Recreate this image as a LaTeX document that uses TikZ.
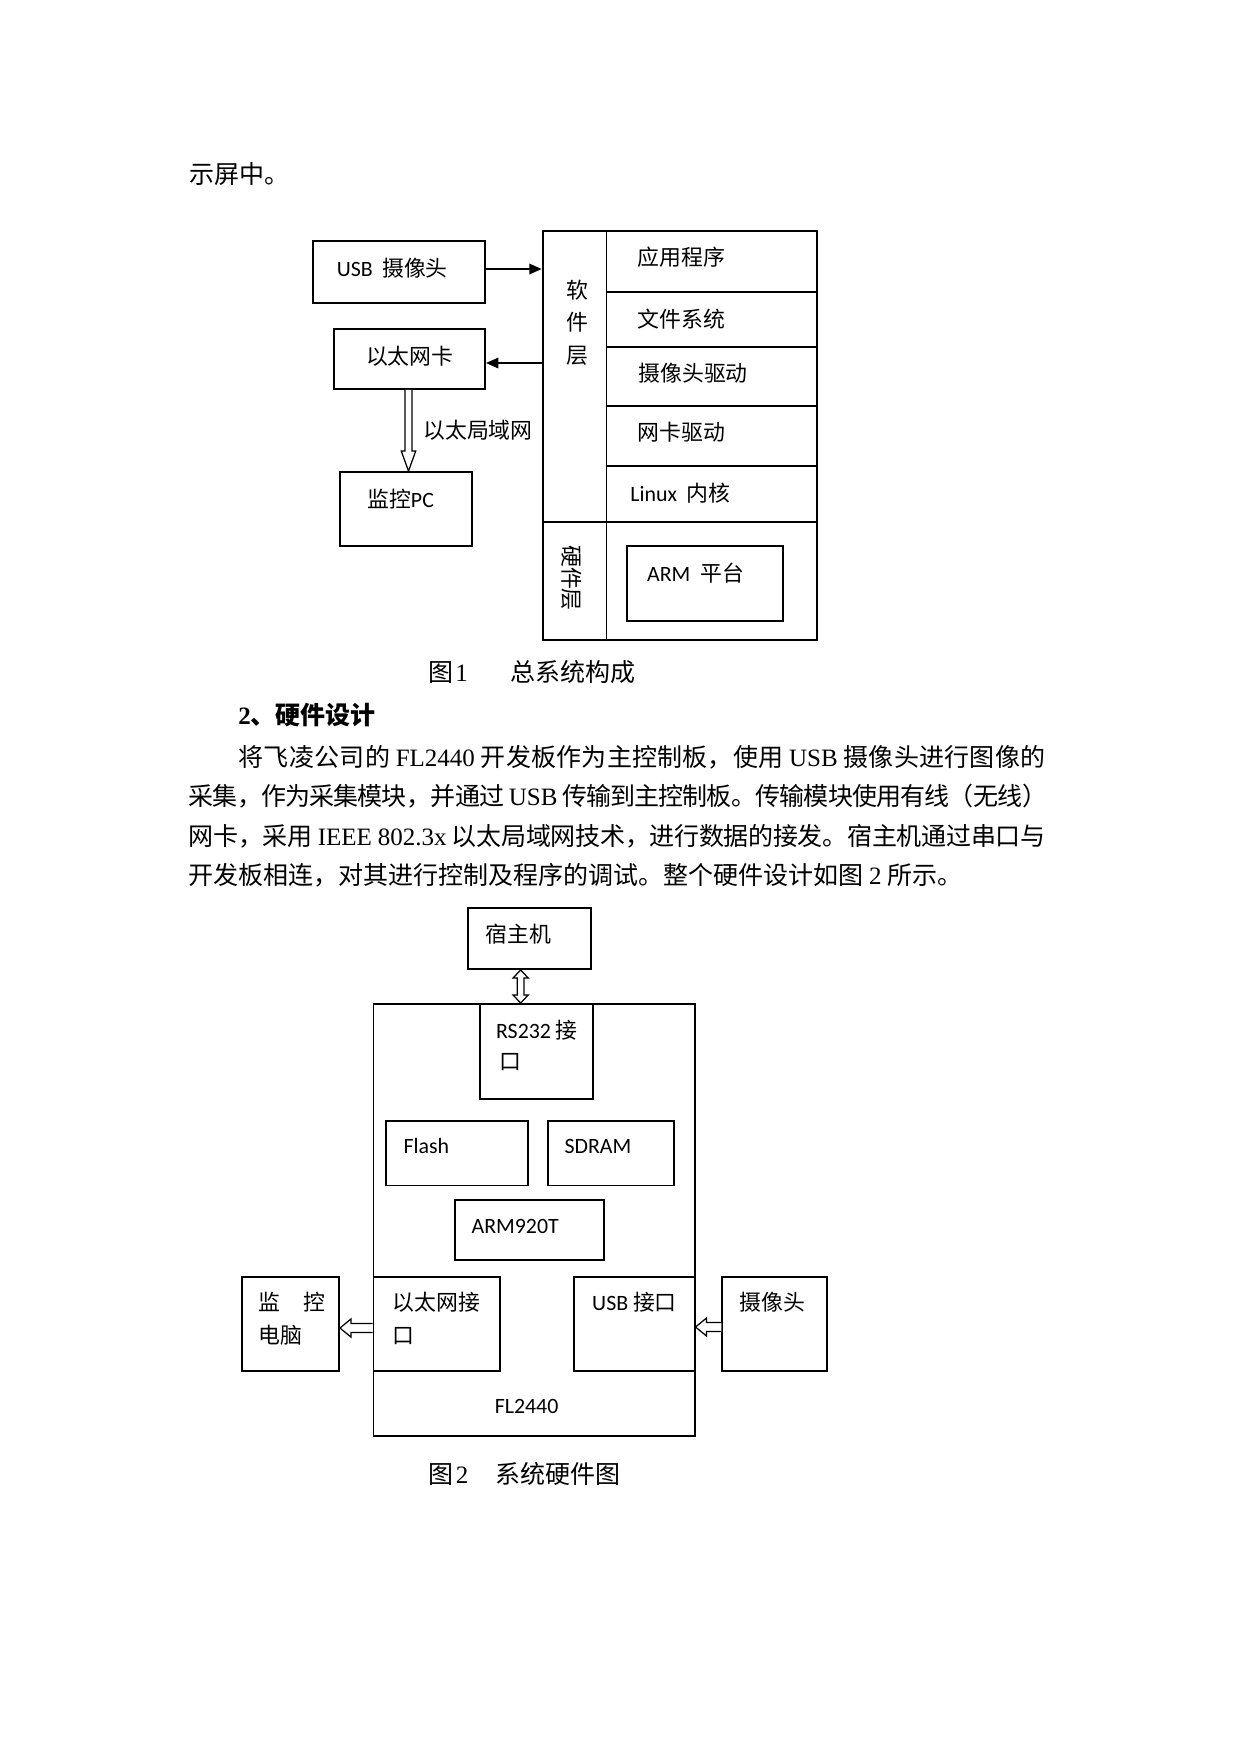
\documentclass[tikz,border=0pt]{standalone}
\usepackage{fontspec}
\setmainfont{Liberation Serif}
\newfontfamily\cjk{Noto Sans CJK SC}
\newfontfamily\calfont{Carlito}
\usetikzlibrary{arrows.meta,calc,fit}
\newdimen\px \px=0.48pt
\XeTeXlinebreaklocale "zh"
\XeTeXlinebreakskip=0pt plus 2pt minus 1pt
\begin{document}
\begin{tikzpicture}[x=0.48pt,y=-0.48pt,
  box/.style={draw, line width=0.9pt, inner sep=0pt},
  ft/.style={anchor=base west, inner sep=0pt, yshift=-4pt, font=\cjk\fontsize{10.5}{12.6}\selectfont},
  bt/.style={anchor=base west, inner sep=0pt, yshift=-4.56pt, font=\cjk\fontsize{12}{14.4}\selectfont},
  arr/.style={line width=1pt, -{Triangle[length=6pt,width=5pt]}},
  hol/.style={draw, fill=white, line width=0.6pt, line join=miter}]
\useasboundingbox[fill=white] (0,0) rectangle (1241,1754);

% ---------- body text ----------
\node[bt] (t0) at (188.6,174) {示屏中。};
\node[bt] (c1a) at (428,672) {图};
\node[bt, font=\rmfamily\fontsize{12}{14.4}\selectfont] (c1b) at (455,672) {1};
\node[bt] (c1c) at (510.5,672) {总系统构成};
\node[bt, font=\cjk\bfseries\fontsize{12}{14.4}\selectfont] (hd) at (238,715) {{\rmfamily\bfseries 2}、硬件设计};
\node[bt] (l1) at (238.3,757) {\parbox[t]{806.7\px}{\parfillskip=0pt 将飞凌公司的 {\rmfamily FL2440} 开发板作为主控制板，使用 {\rmfamily USB} 摄像头进行图像的}};
\node[bt] (l2) at (188,796) {\parbox[t]{859\px}{\parfillskip=0pt 采集，作为采集模块，并通过 {\rmfamily USB} 传输到主控制板。传输模块使用有线（无线）}};
\node[bt] (l3) at (188,836) {\parbox[t]{857\px}{\parfillskip=0pt 网卡，采用 {\rmfamily IEEE 802.3x} 以太局域网技术，进行数据的接发。宿主机通过串口与}};
\node[bt] (l4) at (188,875) {开发板相连，对其进行控制及程序的调试。整个硬件设计如图 {\rmfamily 2} 所示。};
\node[bt] (c2a) at (427.7,1474) {图};
\node[bt, font=\rmfamily\fontsize{12}{14.4}\selectfont] (c2b) at (455.5,1474) {2};
\node[bt] (c2c) at (495.5,1474) {系统硬件图};

% ---------- figure 1 ----------
\node[box, fit={(313,241) (485,303)}] (usb) {};
\node[box, fit={(334,329) (485,389)}] (eth) {};
\node[box, fit={(340,472) (472,546)}] (pc) {};
\node[box, fit={(542.7,231) (606.5,521.7)}] (swl) {};
\node[box, fit={(542.7,521.7) (606.5,640)}] (hwl) {};
\node[box, fit={(606.5,231) (817.3,292)}] (k1) {};
\node[box, fit={(606.5,292) (817.3,346.7)}] (k2) {};
\node[box, fit={(606.5,346.7) (817.3,406)}] (k3) {};
\node[box, fit={(606.5,406) (817.3,465.7)}] (k4) {};
\node[box, fit={(606.5,465.7) (817.3,521.7)}] (k5) {};
\node[box, fit={(606.5,521.7) (817.3,640)}] (hw) {};
\node[box, fit={(626.7,545.7) (782.7,621)}] (arm) {};

\coordinate (u1) at ($(usb.east)+(0,-3)$);
\draw[arr] (u1) -- (u1 -| swl.west);
\coordinate (e1) at ($(eth.east)+(0,4)$);
\draw[arr] (e1 -| swl.west) -- (e1);

\coordinate (d1) at ($(eth.south)+(-1,0)$);
\coordinate (d2) at (d1 |- pc.north);
\draw[hol] ($(d1)+(-3.5,0)$) -- ($(d2)+(-3.5,-20)$) -- ($(d2)+(-7.2,-20)$) -- (d2)
  -- ($(d2)+(7.2,-20)$) -- ($(d2)+(3.5,-20)$) -- ($(d1)+(3.5,0)$);

\node[ft] (tusb) at (336.4,268.5) {{\calfont USB}\hspace{4.5pt}摄像头};
\node[ft] (teth) at (365.7,356) {以太网卡};
\node[ft] (tlan) at (422.9,430) {以太局域网};
\node[ft] (tpc) at (366.8,499) {监控{\calfont PC}};
\node[align=center, inner sep=0pt, font=\cjk\fontsize{10.5}{15.6}\selectfont] (tsw) at (577,322.5) {软\\件\\层};
\node[ft] (tk1) at (637,257.3) {应用程序};
\node[ft] (tk2) at (637,319) {文件系统};
\node[ft] (tk3) at (638,373.3) {摄像头驱动};
\node[ft] (tk4) at (637,432.3) {网卡驱动};
\node[ft] (tk5) at (630,493.3) {{\calfont Linux}\hspace{4.5pt}内核};
\node[inner sep=0pt, rotate=-90, font=\cjk\fontsize{10.5}{12.6}\selectfont] (thw) at (572,578) {硬件层};
\node[ft] (tarm) at (646.7,573.3) {{\calfont ARM}\hspace{5pt}平台};

% ---------- figure 2 ----------
\node[box, fit={(468.3,908.3) (591,969)}] (host) {};
\node[box, fit={(373.5,1004) (694.6,1435.8)}] (fl) {};
\node[box, fit={(480,1004) (592.7,1098.6)}] (rs) {};
\node[box, fit={(386.2,1120.8) (527.7,1185.5)}] (flash) {};
\node[box, fit={(547.9,1120.8) (674.4,1185.5)}] (sdram) {};
\node[box, fit={(454.6,1199.7) (604,1259.7)}] (arm9) {};
\node[box, fit={(373.5,1277) (500,1371)}] (ethif) {};
\node[box, fit={(574.4,1277) (694.6,1371)}] (usbif) {};
\node[box, fit={(242.3,1277) (339,1371)}] (mon) {};
\node[box, fit={(722.3,1277) (827,1371)}] (cam) {};

\coordinate (h1) at ($(host.south)+(-9,0)$);
\coordinate (h2) at (h1 |- fl.north);
\draw[hol] (h1) -- ($(h1)+(7.5,8)$) -- ($(h1)+(3.4,8)$) -- ($(h2)+(3.4,-8)$) -- ($(h2)+(7.5,-8)$)
  -- (h2) -- ($(h2)+(-7.5,-8)$) -- ($(h2)+(-3.4,-8)$) -- ($(h1)+(-3.4,8)$) -- ($(h1)+(-7.5,8)$) -- cycle;

\coordinate (a1) at ($(ethif.west)+(0,4)$);
\coordinate (a2) at (a1 -| mon.east);
\draw[hol] ($(a1)+(0,-4.5)$) -- ($(a2)+(11,-4.5)$) -- ($(a2)+(11,-9)$) -- (a2)
  -- ($(a2)+(11,9)$) -- ($(a2)+(11,4.5)$) -- ($(a1)+(0,4.5)$);

\coordinate (b1) at ($(cam.west)+(0,3)$);
\coordinate (b2) at (b1 -| usbif.east);
\draw[hol] ($(b1)+(0,-4.5)$) -- ($(b2)+(11,-4.5)$) -- ($(b2)+(11,-9)$) -- (b2)
  -- ($(b2)+(11,9)$) -- ($(b2)+(11,4.5)$) -- ($(b1)+(0,4.5)$);

\node[ft] (thost) at (485,933.7) {宿主机};
\node[ft] (trs1) at (495.7,1030) {{\calfont RS232} 接};
\node[ft] (trs2) at (498.9,1061.5) {口};
\node[ft] (tflash) at (403.2,1145) {\calfont Flash};
\node[ft] (tsdram) at (564.1,1145) {\calfont SDRAM};
\node[ft] (tarm9) at (471.2,1225.3) {\calfont ARM920T};
\node[ft] (tei1) at (392.3,1302) {以太网接};
\node[ft] (tei2) at (392.3,1335) {口};
\node[ft] (tui) at (591.8,1302) {{\calfont USB} 接口};
\node[ft] (tcam) at (739.3,1302) {摄像头};
\node[ft] (tmon1) at (258.3,1302) {监\hspace{11pt}控};
\node[ft] (tmon2) at (258.3,1335) {电脑};
\node[ft, anchor=base] (tfl) at (526.6,1405.2) {\calfont FL2440};
\end{tikzpicture}
\end{document}
